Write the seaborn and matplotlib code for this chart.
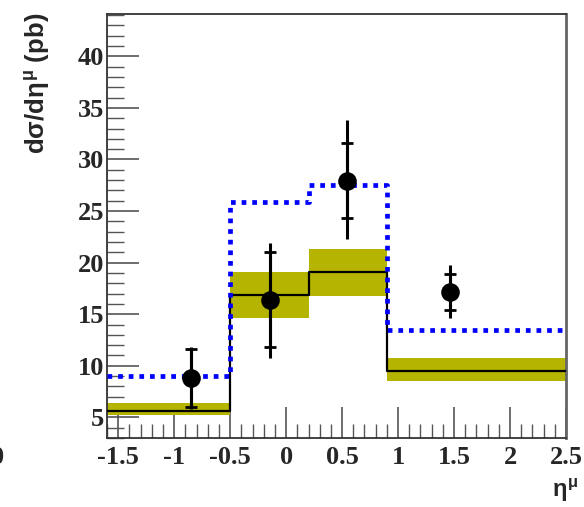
import numpy as np
import matplotlib
matplotlib.use("Agg")
import matplotlib.pyplot as plt
import seaborn as sns
import pandas as pd
from matplotlib.ticker import MultipleLocator, FixedLocator

# ---- data ----
bin_edges = [-1.6, -0.5, 0.2, 0.9, 2.5]
theory = [5.6, 16.9, 19.1, 9.5]
band_low = [5.2, 14.6, 16.8, 8.5]
band_high = [6.35, 19.1, 21.3, 10.8]
alt_theory = [9.05, 25.9, 27.5, 13.5]

data_x = [-0.85, -0.14, 0.54, 1.46]
data_y = [8.8, 16.4, 27.9, 17.2]
stat_lo = [6.05, 11.8, 24.3, 15.4]
stat_hi = [11.6, 21.0, 31.55, 18.9]
tot_lo = [5.8, 10.8, 22.3, 14.6]
tot_hi = [11.8, 21.9, 33.8, 19.8]

xticks = [-1.5, -1, -0.5, 0, 0.5, 1, 1.5, 2, 2.5]
xticklabels = ["-1.5", "-1", "-0.5", "0", "0.5", "1", "1.5", "2", "2.5"]
yticks = [5, 10, 15, 20, 25, 30, 35, 40]

sns.set_style("ticks")
plt.rcParams['axes.unicode_minus'] = False
plt.rcParams['mathtext.fontset'] = 'custom'
plt.rcParams['mathtext.rm'] = 'Liberation Sans:bold'
plt.rcParams['mathtext.it'] = 'Liberation Sans:bold'
plt.rcParams['mathtext.bf'] = 'Liberation Sans:bold'

fig = plt.figure(figsize=(5.84, 5.07), dpi=100)
ax = fig.add_axes([107/584, 1-438/507, (566-107)/584, (438-14)/507])

def stepped(vals):
    return list(vals) + [vals[-1]]

# band
ax.fill_between(bin_edges, stepped(band_low), stepped(band_high), step='post',
                color='#b5b400', linewidth=0, zorder=1)

df_t = pd.DataFrame({"x": bin_edges, "y": stepped(theory)})
sns.lineplot(data=df_t, x="x", y="y", drawstyle='steps-post', color='black',
             linewidth=1.6, sort=False, ax=ax, zorder=3)

df_a = pd.DataFrame({"x": bin_edges, "y": stepped(alt_theory)})
sns.lineplot(data=df_a, x="x", y="y", drawstyle='steps-post', color='#0000ff',
             linewidth=3.4, sort=False, ax=ax, zorder=4,
             linestyle=(0, (1, 1.25)))
ax.lines[-1].set_dash_capstyle('butt')

dx = np.array(data_x); dy = np.array(data_y)
# total errors (no caps)
ax.errorbar(dx, dy, yerr=[dy - np.array(tot_lo), np.array(tot_hi) - dy], fmt='none',
            ecolor='black', elinewidth=2.2, capsize=0, zorder=5)
# stat errors (with caps)
ax.errorbar(dx, dy, yerr=[dy - np.array(stat_lo), np.array(stat_hi) - dy], fmt='none',
            ecolor='black', elinewidth=2.2, capsize=4.5, capthick=2, zorder=5)
sns.scatterplot(x=data_x, y=data_y, color='black', s=180, edgecolor='black',
                linewidth=0, ax=ax, zorder=6)

ax.set_xlim(-1.6, 2.5)
ax.set_ylim(3.0, 44.1)
ax.set_xlabel("")
ax.set_ylabel("")

ax.xaxis.set_major_locator(FixedLocator(xticks))
ax.set_xticklabels(xticklabels)
ax.xaxis.set_minor_locator(MultipleLocator(0.1))
ax.yaxis.set_major_locator(FixedLocator(yticks))
ax.yaxis.set_minor_locator(MultipleLocator(1))

ax.tick_params(axis='both', which='both', direction='in', top=False, right=False,
               color='#555555')
ax.tick_params(axis='y', which='major', length=23, width=1.2, pad=2)
ax.tick_params(axis='y', which='minor', length=12, width=1.0)
ax.tick_params(axis='x', which='major', length=22, width=1.2, pad=6)
ax.tick_params(axis='x', which='minor', length=10, width=1.0)

for lab in ax.get_xticklabels() + ax.get_yticklabels():
    lab.set_fontfamily('Liberation Serif')
    lab.set_fontweight('bold')
    lab.set_fontsize(19)

for s in ['left', 'bottom', 'top', 'right']:
    ax.spines[s].set_color('#333333')
    ax.spines[s].set_linewidth(1.3)
ax.spines['right'].set_linewidth(2.0)
ax.spines['right'].set_color('#666666')

fig.text(38/584, 1-13/507, r"d$\sigma$/d$\eta^{\mu}$ (pb)", rotation=90,
         ha='center', va='top', fontsize=18.5, fontweight='bold',
         family='Liberation Sans')
fig.text(578/584, 1-504/507, r"$\eta^{\mu}$", ha='right', va='bottom',
         fontsize=17, family='Liberation Serif')
fig.text(4/584, 1-458/507, "0", ha='right', va='center', fontsize=19,
         fontweight='bold', family='Liberation Serif')

fig.savefig("out.png", dpi=100)
